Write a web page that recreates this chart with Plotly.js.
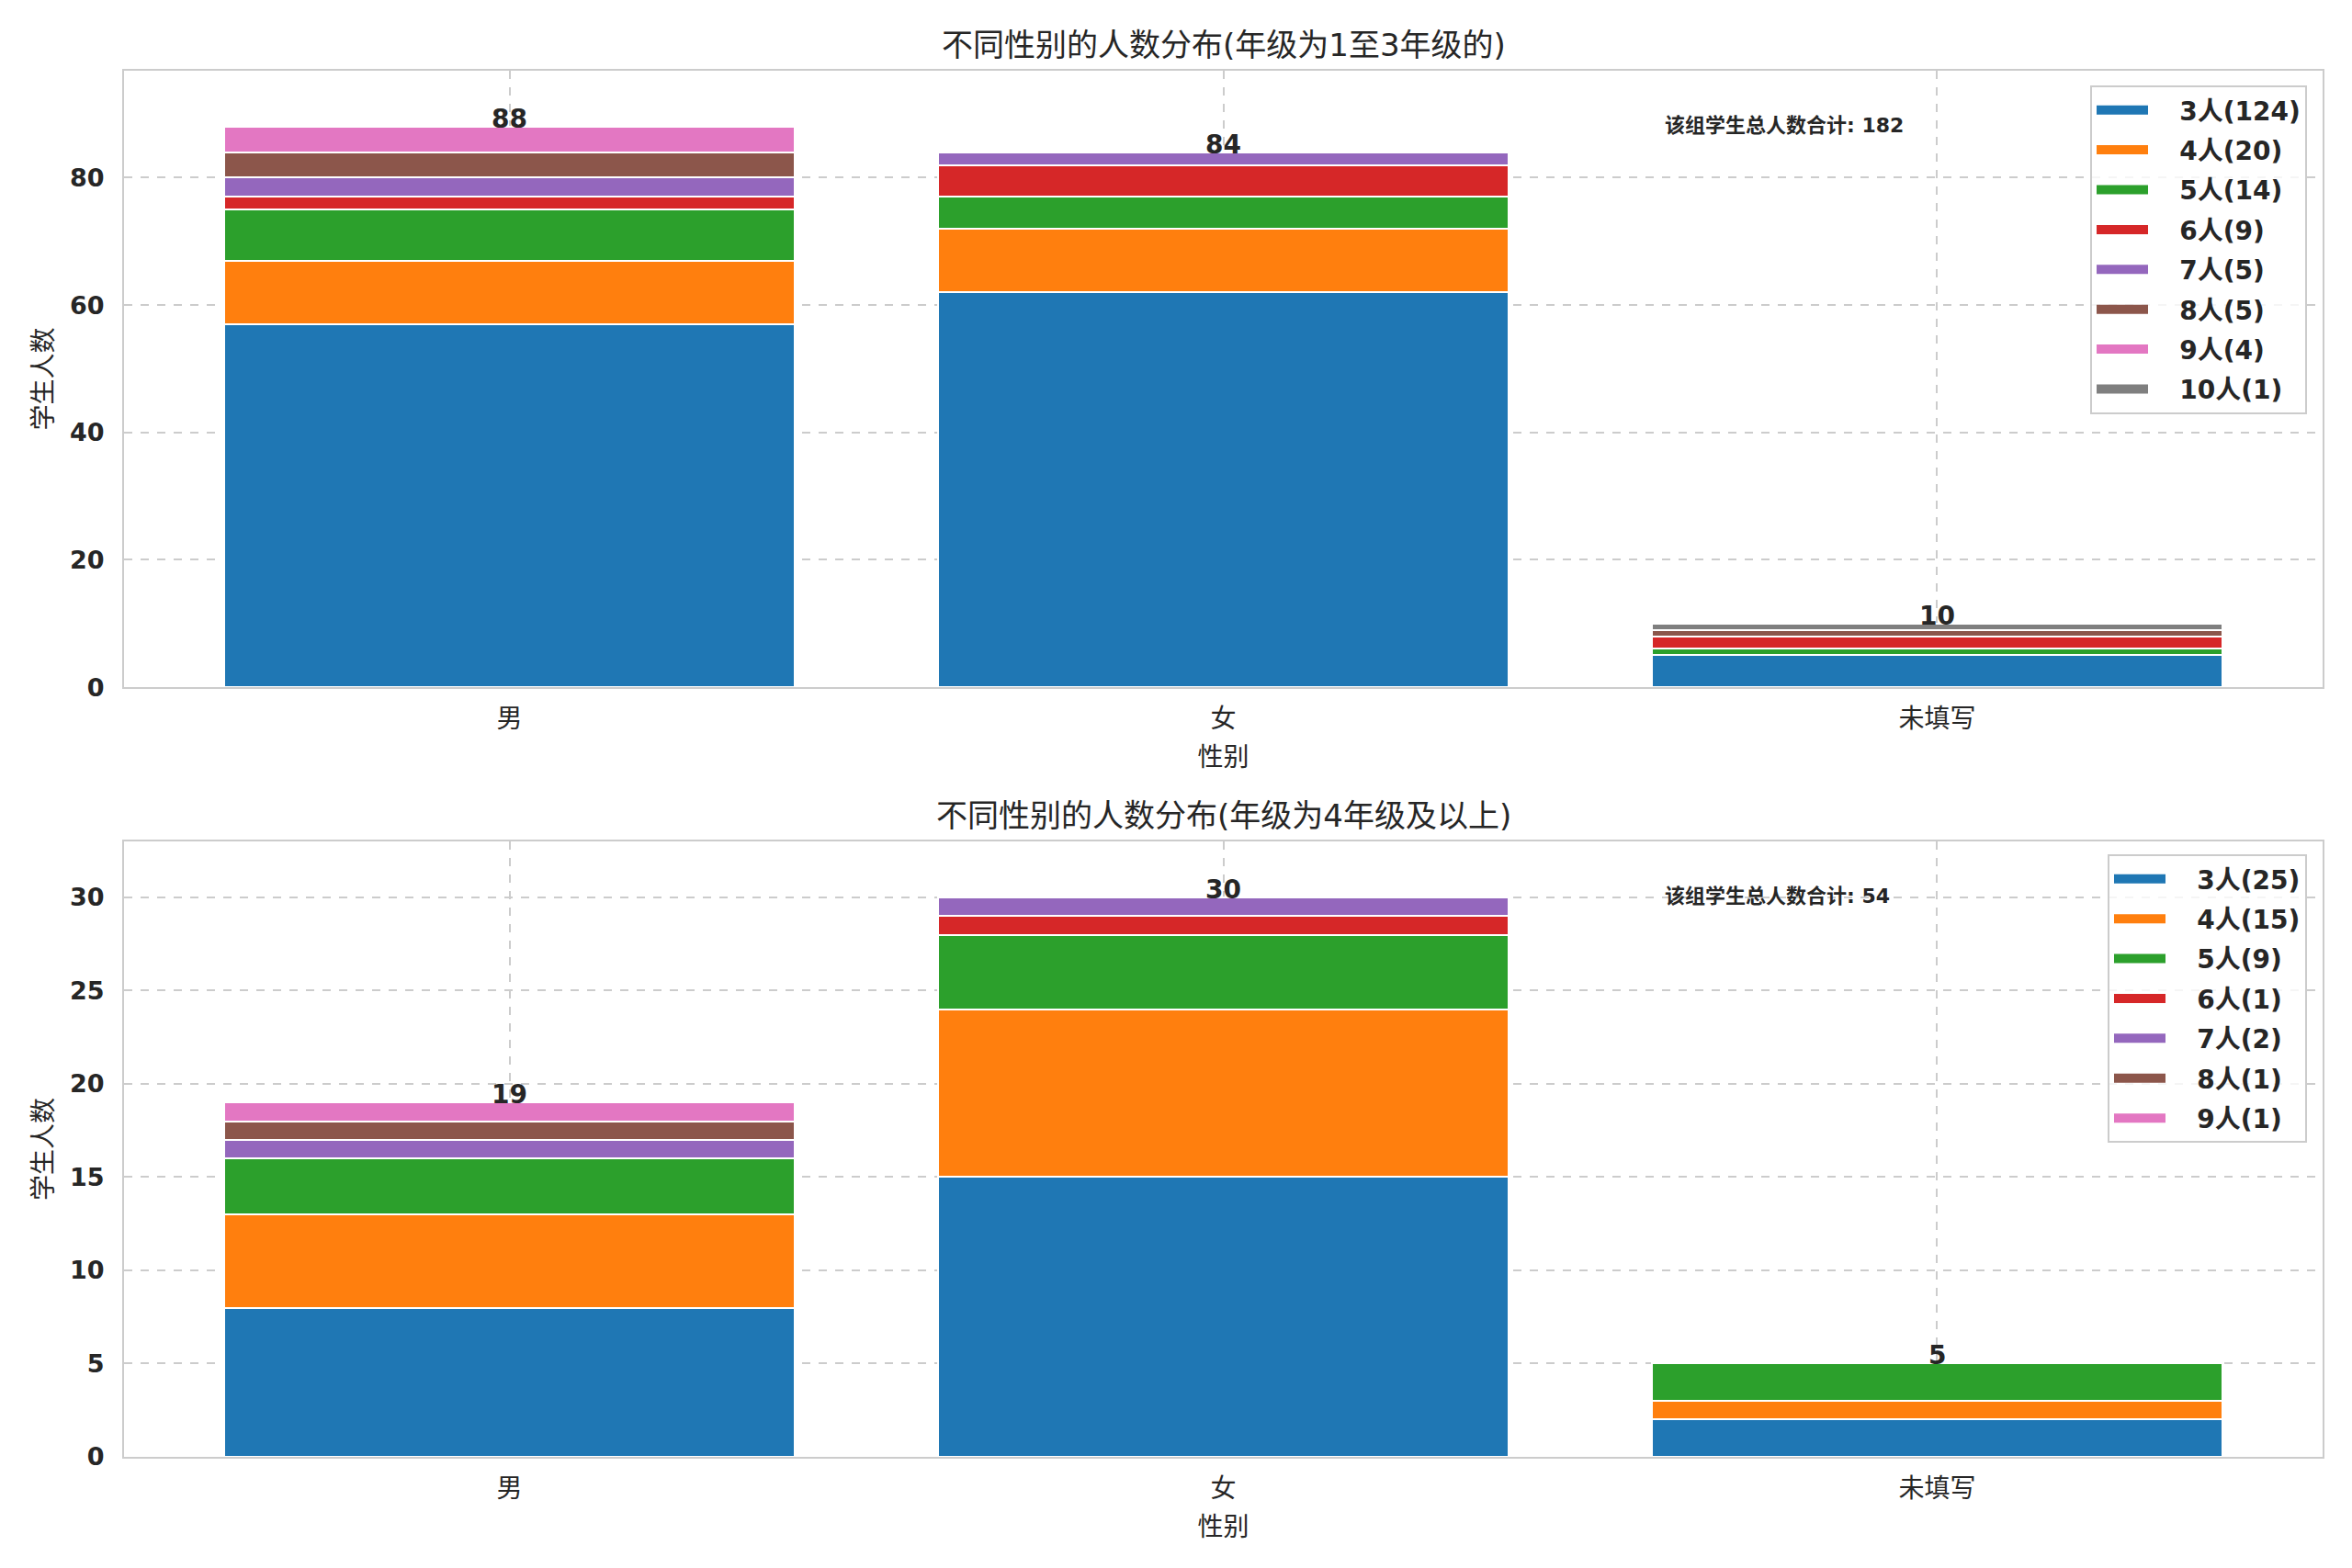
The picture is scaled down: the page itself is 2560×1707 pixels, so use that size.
<!DOCTYPE html>
<html>
<head>
<meta charset="utf-8">
<script src="https://cdn.plot.ly/plotly-3.0.1.min.js"></script>
<style>
  html, body { margin: 0; padding: 0; background: #ffffff; }
  #chart { width: 2560px; height: 1707px; }
</style>
</head>
<body>
<div id="chart"></div>
<script>
// ------------------------------------------------------------------------------
// DATA

const genders = ['男', '女', '未填写'];

// upper panel: grade 1 to 3
const top_groups = ['3人', '4人', '5人', '6人', '7人', '8人', '9人', '10人'];
const top_3  = [57, 62, 5];
const top_4  = [10, 10, 0];
const top_5  = [8, 5, 1];
const top_6  = [2, 5, 2];
const top_7  = [3, 2, 0];
const top_8  = [4, 0, 1];
const top_9  = [4, 0, 0];
const top_10 = [0, 0, 1];

// lower panel: grade 4 and up
const bot_groups = ['3人', '4人', '5人', '6人', '7人', '8人', '9人'];
const bot_3 = [8, 15, 2];
const bot_4 = [5, 9, 1];
const bot_5 = [3, 4, 2];
const bot_6 = [0, 1, 0];
const bot_7 = [1, 1, 0];
const bot_8 = [1, 0, 0];
const bot_9 = [1, 0, 0];

const top_title = '不同性别的人数分布(年级为1至3年级的)';
const bot_title = '不同性别的人数分布(年级为4年级及以上)';
const total_label = '该组学生总人数合计';
const x_title = '性别';
const y_title = '学生人数';

// ------------------------------------------------------------------------------
// STYLE

const colors = ['#1f77b4', '#ff7f0e', '#2ca02c', '#d62728',
                '#9467bd', '#8c564b', '#e377c2', '#7f7f7f'];
const font_family = 'DejaVu Sans, "Noto Sans CJK SC", sans-serif';
const text_color  = '#262626';
const grid_color  = '#cccccc';
const legend_pad  = '\u00a0\u00a0\u00a0';

// ------------------------------------------------------------------------------
// UTILITIES

function sum(arr) {
    return arr.reduce((acc, v) => acc + v, 0);
}

function columnTotals(rows) {
    return genders.map((g, i) => sum(rows.map(r => r[i])));
}

function makeTraces(groups, rows, xa, ya, legend) {
    const out = [];
    groups.forEach((g, k) => {
        const group = legend + '-' + k;
        const label = g + '(' + sum(rows[k]) + ')';
        out.push({
            type: 'bar',
            name: label,
            x: genders,
            y: rows[k],
            xaxis: xa,
            yaxis: ya,
            showlegend: false,
            legendgroup: group,
            marker: {
                color: colors[k],
                line: { color: '#ffffff', width: 2 }
            },
            hoverinfo: 'none'
        });
        // legend entry only: wide patch like the original legend
        out.push({
            type: 'scatter',
            mode: 'lines',
            name: legend_pad + label,
            x: [null],
            y: [null],
            xaxis: xa,
            yaxis: ya,
            legend: legend,
            legendgroup: group,
            line: { color: colors[k], width: 18 },
            hoverinfo: 'none'
        });
    });
    return out;
}

function xAxis(anchor) {
    return {
        anchor: anchor,
        type: 'category',
        range: [-0.54, 2.54],
        showgrid: true,
        gridcolor: grid_color,
        gridwidth: 2,
        griddash: 'dash',
        showline: true,
        linecolor: grid_color,
        linewidth: 2,
        mirror: true,
        zeroline: false,
        ticks: '',
        ticklabelstandoff: 8,
        tickfont: { family: font_family, size: 28, color: text_color },
        title: {
            text: x_title,
            standoff: 17,
            font: { family: font_family, size: 28, color: text_color }
        }
    };
}

function yAxis(anchor, domain, ymax, dtick) {
    return {
        anchor: anchor,
        domain: domain,
        range: [0, ymax],
        dtick: dtick,
        showgrid: true,
        gridcolor: grid_color,
        gridwidth: 2,
        griddash: 'dash',
        showline: true,
        linecolor: grid_color,
        linewidth: 2,
        mirror: true,
        zeroline: false,
        ticks: '',
        ticklabelstandoff: 14,
        tickfont: { family: font_family, size: 27, color: text_color, weight: 'bold' },
        title: {
            text: y_title,
            standoff: 10,
            font: { family: font_family, size: 28, color: text_color }
        }
    };
}

function legendBox(y) {
    return {
        x: 0.9929,
        xanchor: 'right',
        y: y,
        yanchor: 'top',
        traceorder: 'grouped',
        tracegroupgap: 4,
        itemwidth: 56,
        bgcolor: 'rgba(255,255,255,0.8)',
        bordercolor: grid_color,
        borderwidth: 2,
        font: { family: font_family, size: 28, color: text_color, weight: 'bold' }
    };
}

// ------------------------------------------------------------------------------
// LOGIC

const top_rows = [top_3, top_4, top_5, top_6, top_7, top_8, top_9, top_10];
const bot_rows = [bot_3, bot_4, bot_5, bot_6, bot_7, bot_8, bot_9];

const top_totals = columnTotals(top_rows);
const bot_totals = columnTotals(bot_rows);

const traces = makeTraces(top_groups, top_rows, 'x', 'y', 'legend')
    .concat(makeTraces(bot_groups, bot_rows, 'x2', 'y2', 'legend2'));

const annotations = [];

function panelNotes(title, totals, xr, yr) {
    annotations.push({
        text: title,
        xref: xr + ' domain', yref: yr + ' domain',
        x: 0.5, y: 1.042,
        xanchor: 'center', yanchor: 'middle',
        showarrow: false,
        font: { family: font_family, size: 34, color: text_color }
    });
    annotations.push({
        text: total_label + ': ' + sum(totals),
        xref: xr + ' domain', yref: yr + ' domain',
        x: 0.70, y: 0.911,
        xanchor: 'left', yanchor: 'middle',
        showarrow: false,
        font: { family: font_family, size: 22, color: text_color, weight: 'bold' }
    });
    totals.forEach((t, i) => {
        annotations.push({
            text: String(t),
            xref: xr, yref: yr,
            x: genders[i], y: t,
            xanchor: 'center', yanchor: 'bottom',
            yshift: -10,
            showarrow: false,
            font: { family: font_family, size: 28, color: text_color, weight: 'bold' }
        });
    });
}

panelNotes(top_title, top_totals, 'x', 'y');
panelNotes(bot_title, bot_totals, 'x2', 'y2');

const layout = {
    width: 2560,
    height: 1707,
    paper_bgcolor: '#ffffff',
    plot_bgcolor: '#ffffff',
    font: { family: font_family, color: text_color },
    barmode: 'stack',
    bargap: 0.2,
    margin: { l: 135, r: 32, t: 77, b: 121 },
    xaxis: xAxis('y'),
    yaxis: yAxis('x', [0.5553, 1], Math.max(...top_totals) * 1.1, 20),
    xaxis2: xAxis('y2'),
    yaxis2: yAxis('x2', [0, 0.444], Math.max(...bot_totals) * 1.1, 5),
    legend: legendBox(0.9894),
    legend2: legendBox(0.4347),
    annotations: annotations
};

Plotly.newPlot('chart', traces, layout, { displayModeBar: false, staticPlot: true });
</script>
</body>
</html>
